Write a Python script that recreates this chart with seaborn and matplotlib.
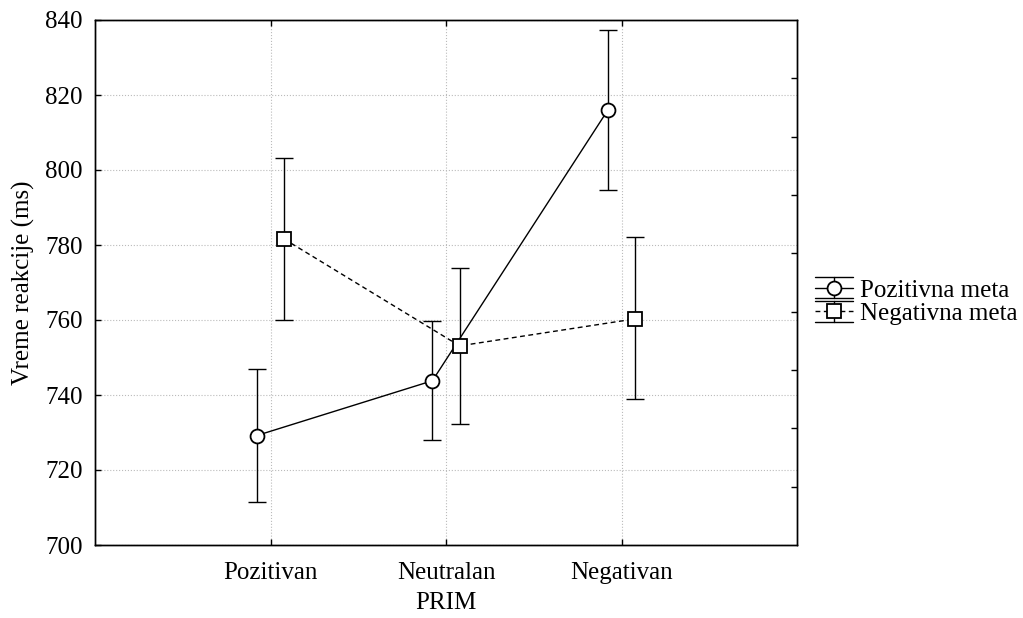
import numpy as np
import pandas as pd
import matplotlib
matplotlib.use("Agg")
import matplotlib.pyplot as plt
from matplotlib.lines import Line2D
from matplotlib.legend_handler import HandlerBase
import seaborn as sns

# ---- data ----
categories = ["Pozitivan", "Neutralan", "Negativan"]
series_names = ["Pozitivna meta", "Negativna meta"]
poz_mean = [729.2, 743.8, 816.0]
poz_low = [711.5, 728.1, 794.6]
poz_high = [747.0, 759.8, 837.4]
neg_mean = [781.6, 753.1, 760.3]
neg_low = [759.9, 732.2, 738.9]
neg_high = [803.2, 773.9, 782.2]
y_ticks = [700, 720, 740, 760, 780, 800, 820, 840]

df = pd.DataFrame({
    "PRIM": categories * 2,
    "meta": [series_names[0]] * 3 + [series_names[1]] * 3,
    "RT": poz_mean + neg_mean,
})

sns.set_theme(style="white")
plt.rcParams["font.family"] = ["Liberation Serif", "DejaVu Serif"]
plt.rcParams["axes.linewidth"] = 1.0
for key in ["text.color", "axes.labelcolor", "xtick.color", "ytick.color", "axes.edgecolor"]:
    plt.rcParams[key] = "black"

FS = 18
DASH = (3.5, 2.5)

fig = plt.figure(figsize=(10.23, 6.18), dpi=100)
ax = fig.add_axes([95 / 1023, 1 - 545 / 618, (797 - 95) / 1023, (545 - 20) / 618])

dodge = 0.155
sns.pointplot(
    data=df, x="PRIM", y="RT", hue="meta", order=categories, hue_order=series_names,
    palette=["black", "black"], markers=["o", "s"], linestyles=["-", "--"],
    dodge=dodge, errorbar=None, legend=False, ax=ax,
    markersize=10, markerfacecolor="white", markeredgecolor="black",
    markeredgewidth=1.3, linewidth=1.0,
)
for ln in ax.lines:
    ln.set_zorder(3)
    if ln.get_linestyle() == "--":
        ln.set_dashes(DASH)

offsets = [-dodge / 2, dodge / 2]
means = [poz_mean, neg_mean]
lows = [poz_low, neg_low]
highs = [poz_high, neg_high]
x_idx = np.arange(len(categories))
for k in range(2):
    m = np.array(means[k]); lo = np.array(lows[k]); hi = np.array(highs[k])
    ax.errorbar(x_idx + offsets[k], m, yerr=[m - lo, hi - m], fmt="none",
                ecolor="black", elinewidth=1.0, capsize=6.8, capthick=1.0, zorder=2)

ax.set_xlim(-1, 3)
ax.set_ylim(700, 840)
ax.set_yticks(y_ticks)
ax.set_xticks(x_idx)
ax.set_xticklabels(categories)
ax.grid(True, color="#bbbbbb", linestyle=":", linewidth=0.8)
ax.set_axisbelow(True)
for s in ax.spines.values():
    s.set_color("black")
    s.set_linewidth(1.0)

ax.tick_params(axis="both", direction="in", length=4, width=1, colors="black",
               labelsize=FS, top=True, bottom=True, left=True, right=False)
ax.tick_params(axis="x", pad=12)
ax.tick_params(axis="y", pad=9)
ax.set_xlabel("PRIM", fontsize=FS, labelpad=6)
ax.set_ylabel("Vreme reakcije (ms)", fontsize=FS, labelpad=7)

ax2 = ax.twinx()
ax2.set_ylim(0, 9)
ax2.set_yticks(range(1, 9))
ax2.set_yticklabels([])
ax2.tick_params(axis="y", direction="in", length=4, width=1, colors="black", right=True)
ax2.grid(False)


class ErrHandler(HandlerBase):
    def create_artists(self, legend, orig_handle, xdescent, ydescent, width, height,
                       fontsize, trans):
        x0 = -xdescent
        x1 = x0 + width
        xc = (x0 + x1) / 2
        yc = -ydescent + height / 2
        cap = 7.5
        ls = orig_handle.get_linestyle()
        line = Line2D([x0, x1], [yc, yc], color="black", lw=1.0, linestyle=ls)
        if ls == "--":
            line.set_dashes(DASH)
        vbar = Line2D([xc, xc], [yc - cap, yc + cap], color="black", lw=1.0)
        top = Line2D([x0, x1], [yc + cap, yc + cap], color="black", lw=1.0)
        bot = Line2D([x0, x1], [yc - cap, yc - cap], color="black", lw=1.0)
        mk = Line2D([xc], [yc], marker=orig_handle.get_marker(), markersize=10,
                    markerfacecolor="white", markeredgecolor="black",
                    markeredgewidth=1.3, linestyle="none")
        arts = [line, vbar, top, bot, mk]
        for a in arts:
            a.set_transform(trans)
        return arts


handles = [Line2D([], [], linestyle="-", marker="o"),
           Line2D([], [], linestyle="--", marker="s")]
hmap = {h: ErrHandler() for h in handles}
fig.legend(handles, series_names, handler_map=hmap, loc="center left",
           bbox_to_anchor=(815 / 1023, 1 - 302 / 618), bbox_transform=fig.transFigure,
           frameon=False, fontsize=FS, handlelength=1.52, handletextpad=0.3,
           labelspacing=0.04, borderpad=0, borderaxespad=0)

fig.savefig("out.png", dpi=100)
